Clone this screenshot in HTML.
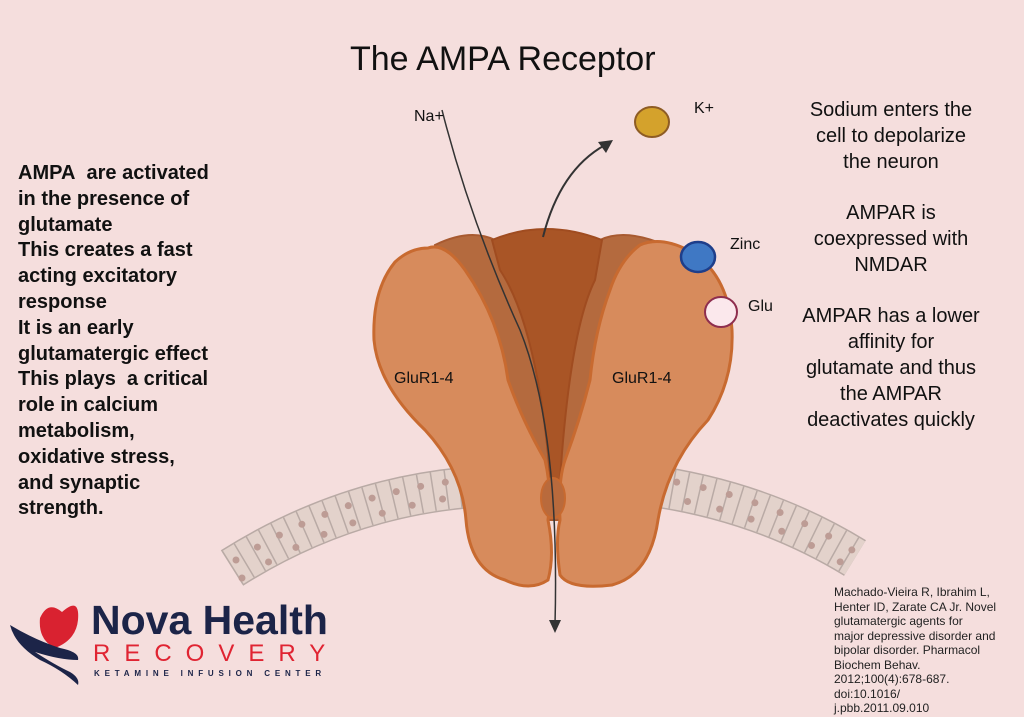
<!DOCTYPE html>
<html><head><meta charset="utf-8"><style>
html,body{margin:0;padding:0;background:#f5dedd;}
body{width:1024px;height:717px;position:relative;overflow:hidden;font-family:"Liberation Sans",sans-serif;}
.t{position:absolute;color:#111;white-space:nowrap;}
</style></head><body>
<svg width="1024" height="717" style="position:absolute;left:0;top:0">
<g fill="none">
<path d="M232,568 Q340,500 462,488" stroke="#b9aaa5" stroke-width="42"/>
<path d="M232,568 Q340,500 462,488" stroke="#e3d2cb" stroke-width="39"/>
<path d="M232,568 Q340,500 462,488" stroke="#b9aaa5" stroke-width="39" stroke-dasharray="1.5 12"/>
<path d="M236,560 Q340,494 462,480" stroke="#bd9c95" stroke-width="7" stroke-linecap="round" stroke-dasharray="0 25"/>
<path d="M242,578 Q345,512 462,496" stroke="#bd9c95" stroke-width="7" stroke-linecap="round" stroke-dasharray="0 31"/>
<path d="M645,485 Q760,500 855,558" stroke="#b9aaa5" stroke-width="42"/>
<path d="M645,485 Q760,500 855,558" stroke="#e3d2cb" stroke-width="39"/>
<path d="M645,485 Q760,500 855,558" stroke="#b9aaa5" stroke-width="39" stroke-dasharray="1.5 12"/>
<path d="M650,478 Q760,492 852,550" stroke="#bd9c95" stroke-width="7" stroke-linecap="round" stroke-dasharray="0 27"/>
<path d="M655,496 Q760,510 850,568" stroke="#bd9c95" stroke-width="7" stroke-linecap="round" stroke-dasharray="0 33"/>
</g>
<path d="M435,245 Q470,228 495,240 Q545,222 600,240 Q625,228 665,245 L640,440 L560,520 L540,520 L470,440 Z" fill="#b46a3e" stroke="#a85a30" stroke-width="2"/>
<path d="M492,240 Q545,218 602,240 L595,280 Q570,330 560,480 L552,500 Q540,330 500,270 Z" fill="#a95526" stroke="#a04c20" stroke-width="2"/>
<path d="M428,248 Q445,242 465,270 Q500,320 508,380 Q522,420 545,460 Q552,490 548,520 Q555,555 548,580 Q530,592 505,580 Q470,570 466,520 Q462,470 425,430 Q378,385 374,340 Q372,290 395,262 Q410,248 428,248 Z" fill="#d78b5c" stroke="#c86a30" stroke-width="3"/>
<path d="M640,245 Q660,236 688,250 Q728,272 732,330 Q734,380 708,420 Q668,462 658,520 Q650,575 612,585 Q570,590 560,575 Q555,540 560,520 Q558,480 565,460 Q580,420 590,380 Q595,330 610,290 Q620,260 640,245 Z" fill="#d78b5c" stroke="#c86a30" stroke-width="3"/>
<ellipse cx="553" cy="498" rx="12" ry="20" fill="#b96a3c" stroke="#c86a30" stroke-width="2"/>
<path d="M442,110 Q470,220 520,330 Q560,430 555,625" fill="none" stroke="#333" stroke-width="1.5"/>
<path d="M549,620 L561,620 L555,633 Z" fill="#333"/>
<path d="M543,237 Q560,170 605,145" fill="none" stroke="#333" stroke-width="2"/>
<path d="M613,140 L598,142 L606,153 Z" fill="#333"/>
<ellipse cx="652" cy="122" rx="17" ry="15" fill="#d4a22c" stroke="#8e5c24" stroke-width="2"/>
<ellipse cx="698" cy="257" rx="17" ry="15" fill="#3f78c4" stroke="#1e3e8a" stroke-width="2.5"/>
<ellipse cx="721" cy="312" rx="16" ry="15" fill="#fbe8ec" stroke="#8e2e4e" stroke-width="2"/>
<path d="M40,618 Q48,600 62,612 Q80,596 78,620 Q76,640 55,648 Q38,640 40,618 Z" fill="#d92230"/>
<path d="M10,625 Q35,640 60,648 Q80,652 78,660 Q60,660 35,652 Q55,665 70,672 Q80,678 78,685 Q62,670 40,660 Q15,645 10,625 Z" fill="#1c2448"/>
</svg>
<div class="t" style="left:350px;top:40px;font-size:34px;">The AMPA Receptor</div>
<div class="t" style="left:414px;top:108px;font-size:16px;">Na+</div>
<div class="t" style="left:694px;top:100px;font-size:16px;">K+</div>
<div class="t" style="left:730px;top:236px;font-size:16px;">Zinc</div>
<div class="t" style="left:748px;top:298px;font-size:16px;">Glu</div>
<div class="t" style="left:394px;top:370px;font-size:16px;">GluR1-4</div>
<div class="t" style="left:612px;top:370px;font-size:16px;">GluR1-4</div>
<div class="t" style="left:18px;top:161px;font-size:20px;font-weight:bold;line-height:25.8px;">AMPA&nbsp; are activated<br>in the presence of<br>glutamate<br>This creates a fast<br>acting excitatory<br>response<br>It is an early<br>glutamatergic effect<br>This plays&nbsp; a critical<br>role in calcium<br>metabolism,<br>oxidative stress,<br>and synaptic<br>strength.</div>
<div class="t" style="left:791px;top:98px;width:200px;text-align:center;font-size:20px;line-height:25.8px;">Sodium enters the<br>cell to depolarize<br>the neuron<br><br>AMPAR is<br>coexpressed with<br>NMDAR<br><br>AMPAR has a lower<br>affinity for<br>glutamate and thus<br>the AMPAR<br>deactivates quickly</div>
<div class="t" style="left:834px;top:585px;font-size:12px;line-height:14.5px;color:#222;">Machado-Vieira R, Ibrahim L,<br>Henter ID, Zarate CA Jr. Novel<br>glutamatergic agents for<br>major depressive disorder and<br>bipolar disorder. Pharmacol<br>Biochem Behav.<br>2012;100(4):678-687.<br>doi:10.1016/<br>j.pbb.2011.09.010</div>
<div class="t" style="left:91px;top:597px;font-size:41px;font-weight:bold;color:#1c2448;">Nova Health</div>
<div class="t" style="left:93px;top:640px;font-size:24px;color:#e02432;letter-spacing:14px;">RECOVERY</div>
<div class="t" style="left:94px;top:669px;font-size:8px;font-weight:bold;color:#1c2448;letter-spacing:4.8px;">KETAMINE INFUSION CENTER</div>
</body></html>
